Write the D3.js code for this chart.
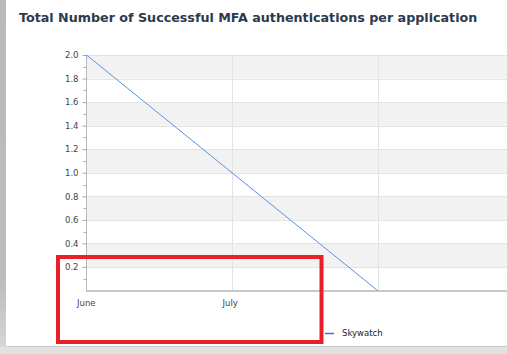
<!DOCTYPE html>
<html><head><meta charset="utf-8">
<script src="https://cdn.jsdelivr.net/npm/d3@7"></script>
<style>body{margin:0;background:#fff;overflow:hidden}svg{display:block}</style>
</head><body>
<script>
const months = ["June", "July", "August"];
const tickLabels = ["June", "July"];
const seriesName = "Skywatch";
const skywatch = [2, 1, 0];
const yTicks = [0.2, 0.4, 0.6, 0.8, 1.0, 1.2, 1.4, 1.6, 1.8, 2.0];
const bandVals = [[1.8, 2.0], [1.4, 1.6], [1.0, 1.2], [0.6, 0.8], [0.2, 0.4]];
const title = "Total Number of Successful MFA authentications per application";

const W = 507, H = 354;
const svg = d3.select("body").append("svg").attr("width", W).attr("height", H);

// page frame
svg.append("rect").attr("x",0).attr("y",0).attr("width",W).attr("height",H).attr("fill","#fff");
const grad = svg.append("defs").append("linearGradient").attr("id","lg").attr("x1",0).attr("y1",0).attr("x2",0).attr("y2",1);
grad.append("stop").attr("offset","0").attr("stop-color","#b9b9b9");
grad.append("stop").attr("offset","0.8").attr("stop-color","#bdbdbd");
grad.append("stop").attr("offset","1").attr("stop-color","#d8d8d8");
svg.append("rect").attr("x",0).attr("y",0).attr("width",6).attr("height",H).attr("fill","url(#lg)");
svg.append("rect").attr("x",0).attr("y",346.5).attr("width",W).attr("height",H-346.5).attr("fill","#e2e2e2");
svg.append("line").attr("x1",6).attr("x2",W).attr("y1",346.5).attr("y2",346.5).attr("stroke","#c8c8c8").attr("stroke-width",1);

svg.append("text").attr("x",19).attr("y",22).attr("font-family","DejaVu Sans, sans-serif")
  .attr("font-weight","bold").attr("font-size",12.7).attr("fill","#2b3a4d").text(title);

const x = d3.scalePoint().domain(months).range([86.5, 377.5]);
const y = d3.scaleLinear().domain([0, 2]).range([290.5, 55]);
const plotRight = W;

// alternating bands
svg.selectAll("rect.band").data(bandVals).join("rect").attr("class","band")
  .attr("x", 86.5).attr("width", plotRight - 86.5)
  .attr("y", d => y(d[1])).attr("height", d => y(d[0]) - y(d[1]))
  .attr("fill", "#f2f2f2");

// horizontal grid
svg.selectAll("line.hg").data(yTicks).join("line").attr("class","hg")
  .attr("x1", 86.5).attr("x2", plotRight)
  .attr("y1", d => Math.round(y(d)) + 0.5).attr("y2", d => Math.round(y(d)) + 0.5)
  .attr("stroke", "#e3e3e3").attr("stroke-width", 1);

// vertical grid
svg.selectAll("line.vg").data(months.slice(1)).join("line").attr("class","vg")
  .attr("x1", d => Math.round(x(d)) + 0.5).attr("x2", d => Math.round(x(d)) + 0.5)
  .attr("y1", y(2)).attr("y2", y(0))
  .attr("stroke", "#e3e3e3").attr("stroke-width", 1);

// y axis
const yAxis = d3.axisLeft(y).tickValues(yTicks).tickFormat(d3.format(".1f")).tickSize(4).tickPadding(4);
const gy = svg.append("g").attr("transform","translate(86.5,0)").call(yAxis);
gy.select(".domain").attr("stroke","#b8b8b8").attr("d", `M0,${y(2)}V${y(0)}`);
gy.selectAll(".tick line").attr("stroke","#a8a8a8");
gy.selectAll(".tick text").attr("font-family","DejaVu Sans, sans-serif").attr("font-size",8.5).attr("fill","#444");
// minor ticks
const minor = d3.range(1, 20, 2).map(v => v / 10);
svg.selectAll("line.mt").data(minor).join("line").attr("class","mt")
  .attr("x1", 83.5).attr("x2", 86.5)
  .attr("y1", d => Math.round(y(d)) + 0.5).attr("y2", d => Math.round(y(d)) + 0.5)
  .attr("stroke","#b0b0b0");

// x axis
const xAxis = d3.axisBottom(x).tickValues(tickLabels).tickSize(0).tickPadding(9);
const gx = svg.append("g").attr("transform", `translate(0,${y(0)})`).call(xAxis);
gx.select(".domain").remove();
gx.selectAll(".tick text").attr("font-family","DejaVu Sans, sans-serif").attr("font-size",8.5).attr("fill","#444")
  .attr("text-anchor","start").attr("dx", -10);
svg.append("line").attr("x1", 86).attr("x2", plotRight).attr("y1", y(0) + 0.5).attr("y2", y(0) + 0.5)
  .attr("stroke","#c8c8c8").attr("stroke-width",2);

// series line
const line = d3.line().x((d, i) => x(months[i])).y(d => y(d));
svg.append("path").datum(skywatch).attr("d", line).attr("fill","none")
  .attr("stroke","#5b8ee6").attr("stroke-width",1);

// legend
svg.append("line").attr("x1",325).attr("x2",334).attr("y1",333.5).attr("y2",333.5).attr("stroke","#3a73d8").attr("stroke-width",1.5);
svg.append("text").attr("x",342).attr("y",336).attr("font-family","DejaVu Sans, sans-serif").attr("font-size",8.5)
  .attr("fill","#222").text(seriesName);

// red highlight annotation
svg.append("rect").attr("x",58).attr("y",257).attr("width",263.5).attr("height",85)
  .attr("fill","none").attr("stroke","#e8202a").attr("stroke-width",4);
</script>
</body></html>
